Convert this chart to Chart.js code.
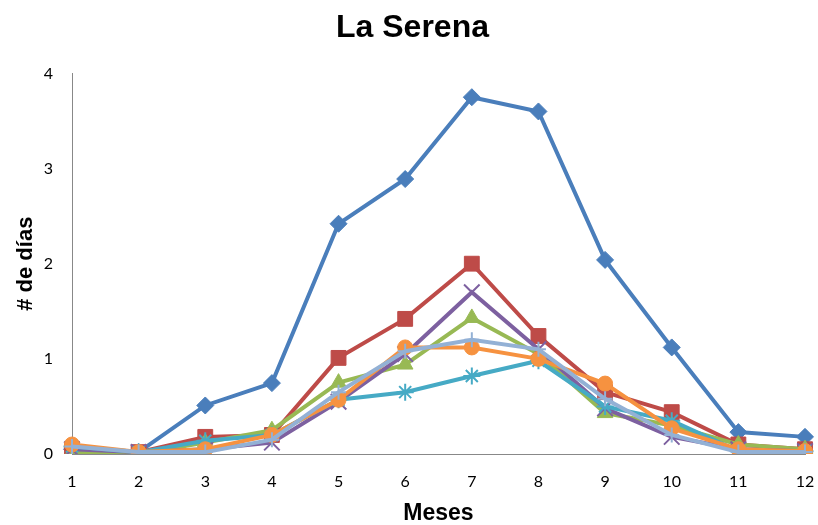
<!DOCTYPE html>
<html>
<head>
<meta charset="utf-8">
<script src="https://cdn.jsdelivr.net/npm/chart.js@4/dist/chart.umd.min.js"></script>
<style>
  html, body { margin: 0; padding: 0; background: #ffffff; }
  #wrap { width: 818px; height: 525px; position: relative; }
</style>
</head>
<body>
<div id="wrap"><canvas id="c"></canvas></div>
<script>
// Months on the x axis
const months = ['1','2','3','4','5','6','7','8','9','10','11','12'];

// Average number of days per month, one series per line
const serie1 = [0.05, 0.02, 0.51, 0.745, 2.42, 2.89, 3.75, 3.60, 2.04, 1.12, 0.23, 0.18];
const serie2 = [0.05, 0.02, 0.18, 0.20, 1.01, 1.42, 2.00, 1.24, 0.65, 0.44, 0.10, 0.05];
const serie3 = [0.02, 0.00, 0.12, 0.25, 0.75, 0.94, 1.43, 1.05, 0.43, 0.30, 0.10, 0.05];
const serie4 = [0.05, 0.02, 0.05, 0.12, 0.55, 1.05, 1.70, 1.10, 0.48, 0.18, 0.05, 0.03];
const serie5 = [0.08, 0.02, 0.14, 0.20, 0.57, 0.65, 0.82, 0.98, 0.50, 0.35, 0.03, 0.03];
const serie6 = [0.10, 0.02, 0.05, 0.20, 0.57, 1.12, 1.12, 1.00, 0.74, 0.27, 0.05, 0.03];
const serie7 = [0.08, 0.02, 0.02, 0.15, 0.65, 1.08, 1.20, 1.10, 0.58, 0.20, 0.02, 0.02];

const yTicks = [0, 1, 2, 3, 4];

const seriesList = [
  { data: serie1, color: '#4A7EBB', style: 'rectRot', radius: 8.5 },
  { data: serie2, color: '#BE4B48', style: 'rect', radius: 10.5 },
  { data: serie3, color: '#98B954', style: 'triangle', radius: 9 },
  { data: serie4, color: '#7D60A0', style: 'crossRot', radius: 11 },
  { data: serie5, color: '#46AAC5', style: 'star', radius: 8.5 },
  { data: serie6, color: '#F69240', style: 'circle', radius: 7.5 },
  { data: serie7, color: '#93B1D5', style: 'cross', radius: 7.5 }
];

const datasets = seriesList.map((s, i) => {
  const open = (s.style === 'crossRot' || s.style === 'star' || s.style === 'cross');
  return {
    label: 'Serie ' + (i + 1),
    data: s.data,
    borderColor: s.color,
    backgroundColor: s.color,
    borderWidth: 4,
    pointStyle: s.style,
    pointRadius: s.radius,
    pointBorderWidth: open ? 2 : 1,
    pointBackgroundColor: s.color,
    pointBorderColor: s.color,
    tension: 0,
    order: seriesList.length - 1 - i
  };
});

new Chart(document.getElementById('c'), {
  type: 'line',
  data: { labels: months, datasets },
  options: {
    responsive: true,
    maintainAspectRatio: false,
    animation: false,
    devicePixelRatio: 1,
    layout: { padding: { left: 13, right: 6, top: 0, bottom: 0 } },
    plugins: {
      legend: { display: false },
      tooltip: { enabled: false },
      title: {
        display: true,
        text: 'La Serena',
        color: '#000000',
        font: { family: 'Liberation Sans', size: 32, weight: 'bold' },
        padding: { top: 9, bottom: 26 }
      }
    },
    scales: {
      x: {
        type: 'category',
        offset: false,
        afterFit: (scale) => {
          scale.height = 71;
          scale.paddingLeft = 0;
          scale.paddingRight = 13;
        },
        grid: { display: false, drawTicks: true, tickLength: 6, color: '#888888' },
        border: { display: true, color: '#888888', width: 1 },
        ticks: { color: '#000000', font: { family: 'Lato', size: 16 }, padding: 12, maxRotation: 0, autoSkip: false },
        title: { display: true, text: 'Meses', color: '#000000', font: { family: 'Liberation Sans', size: 23, weight: 'bold', lineHeight: 1 }, padding: { top: 0, bottom: 0 } }
      },
      y: {
        min: 0,
        max: 4,
        afterBuildTicks: (scale) => { scale.ticks = yTicks.map(v => ({ value: v })); },
        afterFit: (scale) => {
          scale.width = 59;
          scale.paddingTop = 0;
          scale.paddingBottom = 0;
        },
        grid: { display: false, drawTicks: true, tickLength: 6, color: '#888888' },
        border: { display: true, color: '#888888', width: 1 },
        ticks: { color: '#000000', font: { family: 'Lato', size: 16 }, padding: 13 },
        title: { display: true, text: '# de días', color: '#000000', font: { family: 'Liberation Sans', size: 22, weight: 'bold' }, padding: { top: 0, bottom: 6 } }
      }
    }
  }
});
</script>
</body>
</html>
